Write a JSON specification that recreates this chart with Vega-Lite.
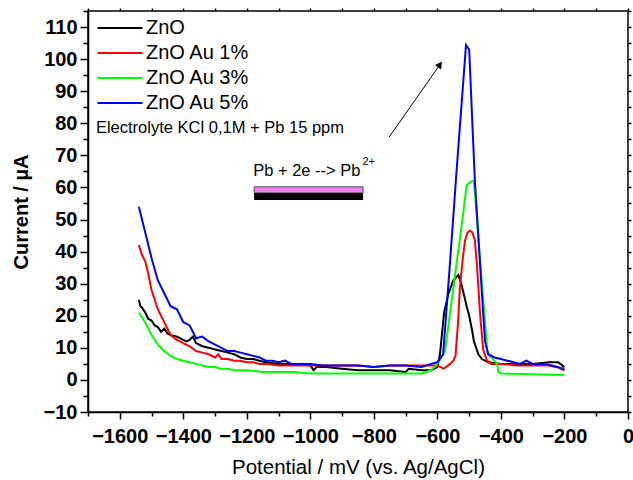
{
  "$schema": "https://vega.github.io/schema/vega-lite/v6.json",
  "autosize": {"type": "none"},
  "padding": {"left": 88, "top": 11, "right": 5, "bottom": 68},
  "width": 540,
  "height": 401,
  "config": {
    "font": "Liberation Sans",
    "view": {"stroke": "black", "strokeWidth": 1.5},
    "axis": {"grid": false, "domainColor": "black", "tickColor": "black", "domainWidth": 1.5, "tickWidth": 1.5, "labelColor": "black", "titleColor": "black"}
  },
  "resolve": {"axis": {"x": "independent", "y": "independent"}},
  "datasets": {
    "curves": [
      {"series": "ZnO", "x": -1540, "y": 25}, {"series": "ZnO", "x": -1535, "y": 23}, {"series": "ZnO", "x": -1530, "y": 22.5}, {"series": "ZnO", "x": -1520, "y": 21}, {"series": "ZnO", "x": -1510, "y": 19}, {"series": "ZnO", "x": -1500, "y": 18.5}, {"series": "ZnO", "x": -1490, "y": 17}, {"series": "ZnO", "x": -1480, "y": 16.5}, {"series": "ZnO", "x": -1470, "y": 15}, {"series": "ZnO", "x": -1460, "y": 16}, {"series": "ZnO", "x": -1450, "y": 14.5}, {"series": "ZnO", "x": -1440, "y": 14}, {"series": "ZnO", "x": -1420, "y": 13.5}, {"series": "ZnO", "x": -1400, "y": 12.5}, {"series": "ZnO", "x": -1390, "y": 12}, {"series": "ZnO", "x": -1380, "y": 12.5}, {"series": "ZnO", "x": -1370, "y": 13.5}, {"series": "ZnO", "x": -1360, "y": 11.5}, {"series": "ZnO", "x": -1340, "y": 10.5}, {"series": "ZnO", "x": -1320, "y": 10}, {"series": "ZnO", "x": -1300, "y": 9.5}, {"series": "ZnO", "x": -1280, "y": 9}, {"series": "ZnO", "x": -1260, "y": 8.5}, {"series": "ZnO", "x": -1240, "y": 8}, {"series": "ZnO", "x": -1220, "y": 7}, {"series": "ZnO", "x": -1200, "y": 6.5}, {"series": "ZnO", "x": -1180, "y": 6.5}, {"series": "ZnO", "x": -1160, "y": 6}, {"series": "ZnO", "x": -1140, "y": 5.5}, {"series": "ZnO", "x": -1100, "y": 5}, {"series": "ZnO", "x": -1050, "y": 5}, {"series": "ZnO", "x": -1000, "y": 4.5}, {"series": "ZnO", "x": -990, "y": 3}, {"series": "ZnO", "x": -980, "y": 4}, {"series": "ZnO", "x": -950, "y": 4}, {"series": "ZnO", "x": -900, "y": 3.5}, {"series": "ZnO", "x": -850, "y": 3}, {"series": "ZnO", "x": -800, "y": 3}, {"series": "ZnO", "x": -750, "y": 3}, {"series": "ZnO", "x": -700, "y": 2.5}, {"series": "ZnO", "x": -690, "y": 3.5}, {"series": "ZnO", "x": -650, "y": 3}, {"series": "ZnO", "x": -620, "y": 3}, {"series": "ZnO", "x": -600, "y": 4}, {"series": "ZnO", "x": -592, "y": 8}, {"series": "ZnO", "x": -579, "y": 21}, {"series": "ZnO", "x": -565, "y": 27}, {"series": "ZnO", "x": -550, "y": 31}, {"series": "ZnO", "x": -534, "y": 32.7}, {"series": "ZnO", "x": -525, "y": 30}, {"series": "ZnO", "x": -515, "y": 26}, {"series": "ZnO", "x": -508, "y": 23}, {"series": "ZnO", "x": -500, "y": 20}, {"series": "ZnO", "x": -490, "y": 15}, {"series": "ZnO", "x": -485, "y": 12}, {"series": "ZnO", "x": -478, "y": 10}, {"series": "ZnO", "x": -471, "y": 8}, {"series": "ZnO", "x": -460, "y": 6.5}, {"series": "ZnO", "x": -440, "y": 5.5}, {"series": "ZnO", "x": -400, "y": 5}, {"series": "ZnO", "x": -350, "y": 5}, {"series": "ZnO", "x": -300, "y": 5}, {"series": "ZnO", "x": -250, "y": 5.5}, {"series": "ZnO", "x": -220, "y": 5.5}, {"series": "ZnO", "x": -200, "y": 4},

      {"series": "ZnO Au 1%", "x": -1540, "y": 42}, {"series": "ZnO Au 1%", "x": -1530, "y": 39}, {"series": "ZnO Au 1%", "x": -1520, "y": 37}, {"series": "ZnO Au 1%", "x": -1510, "y": 33}, {"series": "ZnO Au 1%", "x": -1500, "y": 28}, {"series": "ZnO Au 1%", "x": -1480, "y": 22}, {"series": "ZnO Au 1%", "x": -1460, "y": 18}, {"series": "ZnO Au 1%", "x": -1440, "y": 14}, {"series": "ZnO Au 1%", "x": -1420, "y": 12.5}, {"series": "ZnO Au 1%", "x": -1400, "y": 11.5}, {"series": "ZnO Au 1%", "x": -1380, "y": 10.5}, {"series": "ZnO Au 1%", "x": -1360, "y": 9}, {"series": "ZnO Au 1%", "x": -1340, "y": 8.5}, {"series": "ZnO Au 1%", "x": -1320, "y": 8}, {"series": "ZnO Au 1%", "x": -1300, "y": 7}, {"series": "ZnO Au 1%", "x": -1290, "y": 8}, {"series": "ZnO Au 1%", "x": -1280, "y": 6.5}, {"series": "ZnO Au 1%", "x": -1260, "y": 6.5}, {"series": "ZnO Au 1%", "x": -1240, "y": 6}, {"series": "ZnO Au 1%", "x": -1220, "y": 6}, {"series": "ZnO Au 1%", "x": -1200, "y": 5.5}, {"series": "ZnO Au 1%", "x": -1180, "y": 5.5}, {"series": "ZnO Au 1%", "x": -1160, "y": 5}, {"series": "ZnO Au 1%", "x": -1140, "y": 5}, {"series": "ZnO Au 1%", "x": -1100, "y": 4.5}, {"series": "ZnO Au 1%", "x": -1050, "y": 4.5}, {"series": "ZnO Au 1%", "x": -1000, "y": 4.5}, {"series": "ZnO Au 1%", "x": -950, "y": 4.5}, {"series": "ZnO Au 1%", "x": -900, "y": 4.5}, {"series": "ZnO Au 1%", "x": -850, "y": 4.5}, {"series": "ZnO Au 1%", "x": -800, "y": 4}, {"series": "ZnO Au 1%", "x": -750, "y": 4.5}, {"series": "ZnO Au 1%", "x": -700, "y": 4.5}, {"series": "ZnO Au 1%", "x": -650, "y": 4.5}, {"series": "ZnO Au 1%", "x": -600, "y": 4.5}, {"series": "ZnO Au 1%", "x": -580, "y": 3.5}, {"series": "ZnO Au 1%", "x": -560, "y": 5}, {"series": "ZnO Au 1%", "x": -550, "y": 6}, {"series": "ZnO Au 1%", "x": -543, "y": 7.5}, {"series": "ZnO Au 1%", "x": -535, "y": 18}, {"series": "ZnO Au 1%", "x": -529, "y": 29}, {"series": "ZnO Au 1%", "x": -520, "y": 38}, {"series": "ZnO Au 1%", "x": -513, "y": 43.5}, {"series": "ZnO Au 1%", "x": -505, "y": 46}, {"series": "ZnO Au 1%", "x": -497, "y": 46.5}, {"series": "ZnO Au 1%", "x": -490, "y": 46}, {"series": "ZnO Au 1%", "x": -482, "y": 43.5}, {"series": "ZnO Au 1%", "x": -475, "y": 35}, {"series": "ZnO Au 1%", "x": -466, "y": 21}, {"series": "ZnO Au 1%", "x": -456, "y": 9.5}, {"series": "ZnO Au 1%", "x": -444, "y": 6}, {"series": "ZnO Au 1%", "x": -430, "y": 5}, {"series": "ZnO Au 1%", "x": -400, "y": 5}, {"series": "ZnO Au 1%", "x": -350, "y": 4.5}, {"series": "ZnO Au 1%", "x": -300, "y": 4.5}, {"series": "ZnO Au 1%", "x": -250, "y": 4.5}, {"series": "ZnO Au 1%", "x": -200, "y": 3.5},

      {"series": "ZnO Au 3%", "x": -1540, "y": 21}, {"series": "ZnO Au 3%", "x": -1520, "y": 18}, {"series": "ZnO Au 3%", "x": -1500, "y": 14}, {"series": "ZnO Au 3%", "x": -1480, "y": 11}, {"series": "ZnO Au 3%", "x": -1460, "y": 9}, {"series": "ZnO Au 3%", "x": -1440, "y": 7.5}, {"series": "ZnO Au 3%", "x": -1420, "y": 6.5}, {"series": "ZnO Au 3%", "x": -1400, "y": 6}, {"series": "ZnO Au 3%", "x": -1380, "y": 5.5}, {"series": "ZnO Au 3%", "x": -1360, "y": 5}, {"series": "ZnO Au 3%", "x": -1340, "y": 4.5}, {"series": "ZnO Au 3%", "x": -1320, "y": 4}, {"series": "ZnO Au 3%", "x": -1300, "y": 4}, {"series": "ZnO Au 3%", "x": -1280, "y": 3.5}, {"series": "ZnO Au 3%", "x": -1260, "y": 3.5}, {"series": "ZnO Au 3%", "x": -1240, "y": 3}, {"series": "ZnO Au 3%", "x": -1200, "y": 3}, {"series": "ZnO Au 3%", "x": -1150, "y": 2.5}, {"series": "ZnO Au 3%", "x": -1100, "y": 2.5}, {"series": "ZnO Au 3%", "x": -1050, "y": 2.5}, {"series": "ZnO Au 3%", "x": -1000, "y": 2}, {"series": "ZnO Au 3%", "x": -900, "y": 2}, {"series": "ZnO Au 3%", "x": -800, "y": 2}, {"series": "ZnO Au 3%", "x": -700, "y": 2}, {"series": "ZnO Au 3%", "x": -650, "y": 2}, {"series": "ZnO Au 3%", "x": -620, "y": 3}, {"series": "ZnO Au 3%", "x": -600, "y": 5}, {"series": "ZnO Au 3%", "x": -576, "y": 9}, {"series": "ZnO Au 3%", "x": -560, "y": 21}, {"series": "ZnO Au 3%", "x": -540, "y": 36}, {"series": "ZnO Au 3%", "x": -520, "y": 51}, {"series": "ZnO Au 3%", "x": -508, "y": 60.8}, {"series": "ZnO Au 3%", "x": -490, "y": 62}, {"series": "ZnO Au 3%", "x": -485, "y": 62}, {"series": "ZnO Au 3%", "x": -470, "y": 43}, {"series": "ZnO Au 3%", "x": -460, "y": 30}, {"series": "ZnO Au 3%", "x": -450, "y": 18}, {"series": "ZnO Au 3%", "x": -444, "y": 10}, {"series": "ZnO Au 3%", "x": -440, "y": 8}, {"series": "ZnO Au 3%", "x": -430, "y": 7}, {"series": "ZnO Au 3%", "x": -420, "y": 6}, {"series": "ZnO Au 3%", "x": -412, "y": 5}, {"series": "ZnO Au 3%", "x": -408, "y": 2.5}, {"series": "ZnO Au 3%", "x": -400, "y": 2}, {"series": "ZnO Au 3%", "x": -300, "y": 1.8}, {"series": "ZnO Au 3%", "x": -200, "y": 1.5},

      {"series": "ZnO Au 5%", "x": -1540, "y": 54}, {"series": "ZnO Au 5%", "x": -1520, "y": 46}, {"series": "ZnO Au 5%", "x": -1500, "y": 38}, {"series": "ZnO Au 5%", "x": -1480, "y": 31}, {"series": "ZnO Au 5%", "x": -1460, "y": 27}, {"series": "ZnO Au 5%", "x": -1440, "y": 23}, {"series": "ZnO Au 5%", "x": -1420, "y": 22}, {"series": "ZnO Au 5%", "x": -1400, "y": 18}, {"series": "ZnO Au 5%", "x": -1380, "y": 17}, {"series": "ZnO Au 5%", "x": -1360, "y": 13}, {"series": "ZnO Au 5%", "x": -1340, "y": 13.5}, {"series": "ZnO Au 5%", "x": -1320, "y": 12}, {"series": "ZnO Au 5%", "x": -1300, "y": 11}, {"series": "ZnO Au 5%", "x": -1280, "y": 10}, {"series": "ZnO Au 5%", "x": -1260, "y": 9}, {"series": "ZnO Au 5%", "x": -1240, "y": 9}, {"series": "ZnO Au 5%", "x": -1220, "y": 8.5}, {"series": "ZnO Au 5%", "x": -1200, "y": 8}, {"series": "ZnO Au 5%", "x": -1180, "y": 7.5}, {"series": "ZnO Au 5%", "x": -1160, "y": 7}, {"series": "ZnO Au 5%", "x": -1140, "y": 6}, {"series": "ZnO Au 5%", "x": -1120, "y": 6}, {"series": "ZnO Au 5%", "x": -1100, "y": 5.5}, {"series": "ZnO Au 5%", "x": -1080, "y": 6}, {"series": "ZnO Au 5%", "x": -1060, "y": 5}, {"series": "ZnO Au 5%", "x": -1040, "y": 5}, {"series": "ZnO Au 5%", "x": -1000, "y": 5}, {"series": "ZnO Au 5%", "x": -960, "y": 4.5}, {"series": "ZnO Au 5%", "x": -900, "y": 4.5}, {"series": "ZnO Au 5%", "x": -850, "y": 4.5}, {"series": "ZnO Au 5%", "x": -800, "y": 4}, {"series": "ZnO Au 5%", "x": -750, "y": 4.5}, {"series": "ZnO Au 5%", "x": -700, "y": 4.5}, {"series": "ZnO Au 5%", "x": -650, "y": 4}, {"series": "ZnO Au 5%", "x": -620, "y": 5}, {"series": "ZnO Au 5%", "x": -600, "y": 5.5}, {"series": "ZnO Au 5%", "x": -582, "y": 8}, {"series": "ZnO Au 5%", "x": -560, "y": 37}, {"series": "ZnO Au 5%", "x": -542, "y": 62}, {"series": "ZnO Au 5%", "x": -530, "y": 78}, {"series": "ZnO Au 5%", "x": -520, "y": 91}, {"series": "ZnO Au 5%", "x": -510, "y": 104.4}, {"series": "ZnO Au 5%", "x": -500, "y": 103}, {"series": "ZnO Au 5%", "x": -490, "y": 80}, {"series": "ZnO Au 5%", "x": -482, "y": 62}, {"series": "ZnO Au 5%", "x": -470, "y": 43}, {"series": "ZnO Au 5%", "x": -460, "y": 27}, {"series": "ZnO Au 5%", "x": -450, "y": 12}, {"series": "ZnO Au 5%", "x": -440, "y": 8}, {"series": "ZnO Au 5%", "x": -420, "y": 7}, {"series": "ZnO Au 5%", "x": -400, "y": 6.5}, {"series": "ZnO Au 5%", "x": -380, "y": 6}, {"series": "ZnO Au 5%", "x": -360, "y": 5.5}, {"series": "ZnO Au 5%", "x": -340, "y": 5}, {"series": "ZnO Au 5%", "x": -320, "y": 6}, {"series": "ZnO Au 5%", "x": -300, "y": 5}, {"series": "ZnO Au 5%", "x": -280, "y": 5}, {"series": "ZnO Au 5%", "x": -260, "y": 5}, {"series": "ZnO Au 5%", "x": -240, "y": 4.5}, {"series": "ZnO Au 5%", "x": -220, "y": 4}, {"series": "ZnO Au 5%", "x": -200, "y": 3}
    ]
  },
  "layer": [
    {
      "data": {"name": "curves"},
      "mark": {"type": "line", "strokeWidth": 2, "clip": true},
      "encoding": {
        "x": {"field": "x", "type": "quantitative", "scale": {"domain": [-1700, 0], "nice": false, "zero": false},
          "axis": {"orient": "bottom", "values": [-1600, -1400, -1200, -1000, -800, -600, -400, -200, 0], "format": "d", "labelFont": "Liberation Sans", "labelFontWeight": "bold", "labelFontSize": 20, "labelPadding": 7, "tickSize": 7, "labelFlush": false, "labelOverlap": false, "title": "Potential / mV (vs. Ag/AgCl)", "titleFont": "Liberation Sans", "titleFontWeight": "normal", "titleFontSize": 20.5, "titlePadding": 11}},
        "y": {"field": "y", "type": "quantitative", "scale": {"domain": [-10, 115], "nice": false, "zero": false},
          "axis": {"orient": "left", "values": [-10, 0, 10, 20, 30, 40, 50, 60, 70, 80, 90, 100, 110], "labelFont": "Liberation Sans", "labelFontWeight": "bold", "labelFontSize": 20, "labelPadding": 3, "tickSize": 8, "labelFlush": false, "labelOverlap": false, "title": "Current / µA", "titleFont": "Liberation Sans", "titleFontWeight": "bold", "titleFontSize": 20, "titlePadding": 12}},
        "color": {"field": "series", "type": "nominal",
          "scale": {"domain": ["ZnO", "ZnO Au 1%", "ZnO Au 3%", "ZnO Au 5%"], "range": ["#000000", "#ff0000", "#00ff00", "#0000ff"]},
          "legend": {"orient": "none", "legendX": 22, "legendY": 7, "padding": 0, "title": null, "symbolType": "M-3,0H3", "symbolSize": 225, "symbolStrokeWidth": 2, "labelFont": "Liberation Sans", "labelFontSize": 20, "labelColor": "black", "labelOffset": 16, "rowPadding": 5}}
      }
    },
    {
      "data": {"values": [{"x": -1700, "y": 0}]},
      "mark": {"type": "point", "opacity": 0},
      "encoding": {
        "x": {"field": "x", "type": "quantitative", "axis": {"orient": "bottom", "values": [-1700, -1500, -1300, -1100, -900, -700, -500, -300, -100], "labels": false, "tickSize": 4, "domain": false, "title": null}},
        "y": {"field": "y", "type": "quantitative", "axis": {"orient": "left", "values": [-5, 5, 15, 25, 35, 45, 55, 65, 75, 85, 95, 105, 115], "labels": false, "tickSize": 5, "domain": false, "title": null}}
      }
    },
    {
      "data": {"values": [{"x": -1700, "y": 0}]},
      "mark": {"type": "point", "opacity": 0},
      "encoding": {
        "x": {"field": "x", "type": "quantitative", "axis": {"orient": "top", "values": [-1700, -1600, -1500, -1400, -1300, -1200, -1100, -1000, -900, -800, -700, -600, -500, -400, -300, -200, -100, 0], "labels": false, "tickSize": 3, "domain": false, "title": null}},
        "y": {"field": "y", "type": "quantitative", "axis": {"orient": "right", "values": [-10, -5, 0, 5, 10, 15, 20, 25, 30, 35, 40, 45, 50, 55, 60, 65, 70, 75, 80, 85, 90, 95, 100, 105, 110, 115], "labels": false, "tickSize": 3, "domain": false, "title": null}}
      }
    },
    {
      "data": {"values": [{"text": "Electrolyte KCl 0,1M + Pb 15 ppm", "x": -1675, "y": 78.5}]},
      "mark": {"type": "text", "align": "left", "baseline": "middle", "font": "Liberation Sans", "fontSize": 16.5, "color": "black"},
      "encoding": {"x": {"field": "x", "type": "quantitative", "axis": null}, "y": {"field": "y", "type": "quantitative", "axis": null}, "text": {"field": "text"}}
    },
    {
      "data": {"values": [{"text": "Pb + 2e --> Pb", "x": -1180, "y": 65}]},
      "mark": {"type": "text", "align": "left", "baseline": "middle", "font": "Liberation Sans", "fontSize": 16.5, "color": "black"},
      "encoding": {"x": {"field": "x", "type": "quantitative", "axis": null}, "y": {"field": "y", "type": "quantitative", "axis": null}, "text": {"field": "text"}}
    },
    {
      "data": {"values": [{"text": "2+", "x": -836, "y": 67.8}]},
      "mark": {"type": "text", "align": "left", "baseline": "middle", "font": "Liberation Sans", "fontSize": 11, "color": "black"},
      "encoding": {"x": {"field": "x", "type": "quantitative", "axis": null}, "y": {"field": "y", "type": "quantitative", "axis": null}, "text": {"field": "text"}}
    },
    {
      "data": {"values": [{"x": -1177, "x2": -834, "y": 58.3, "y2": 60.2}]},
      "mark": {"type": "rect", "fill": "#ee82ee", "stroke": "#555555", "strokeWidth": 1},
      "encoding": {"x": {"field": "x", "type": "quantitative", "axis": null}, "x2": {"field": "x2"}, "y": {"field": "y", "type": "quantitative", "axis": null}, "y2": {"field": "y2"}}
    },
    {
      "data": {"values": [{"x": -1177, "x2": -834, "y": 56.1, "y2": 58.3}]},
      "mark": {"type": "rect", "fill": "black"},
      "encoding": {"x": {"field": "x", "type": "quantitative", "axis": null}, "x2": {"field": "x2"}, "y": {"field": "y", "type": "quantitative", "axis": null}, "y2": {"field": "y2"}}
    },
    {
      "data": {"values": [{"x": -752, "y": 75.7, "x2": -592, "y2": 98.3}]},
      "mark": {"type": "rule", "color": "black", "strokeWidth": 1},
      "encoding": {"x": {"field": "x", "type": "quantitative", "axis": null}, "y": {"field": "y", "type": "quantitative", "axis": null}, "x2": {"field": "x2"}, "y2": {"field": "y2"}}
    },
    {
      "data": {"values": [{"x": -592, "y": 98.3}]},
      "mark": {"type": "point", "shape": "triangle-up", "filled": true, "color": "black", "size": 60, "angle": 35, "opacity": 1},
      "encoding": {"x": {"field": "x", "type": "quantitative", "axis": null}, "y": {"field": "y", "type": "quantitative", "axis": null}}
    }
  ]
}
